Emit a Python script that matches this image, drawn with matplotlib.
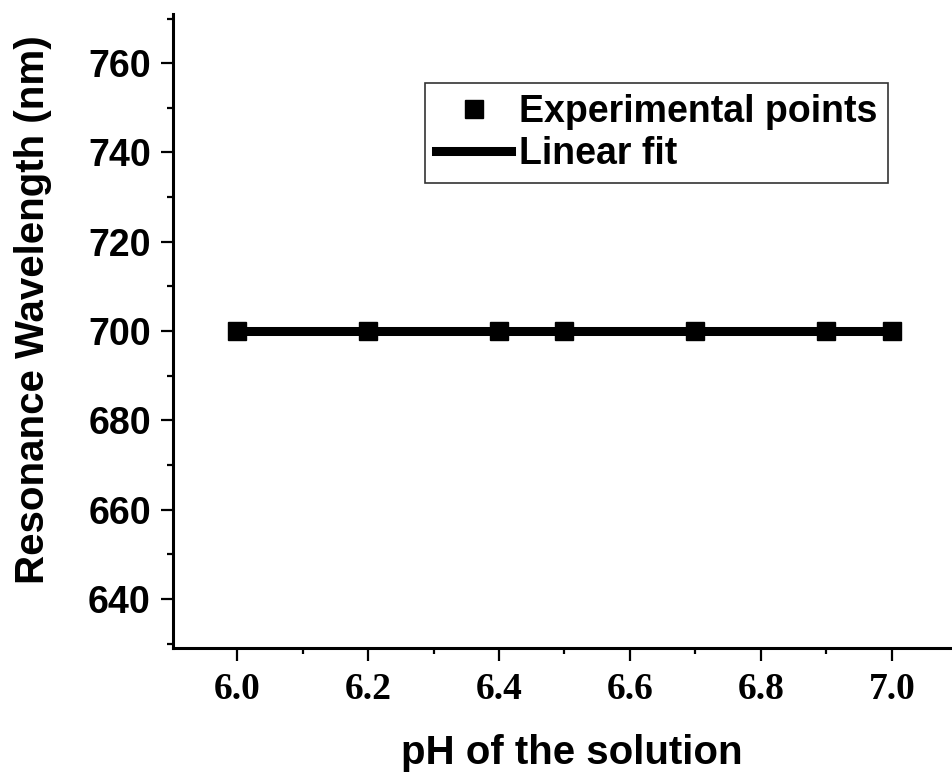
import numpy as np
import matplotlib.pyplot as plt
from matplotlib.ticker import MultipleLocator

ph = [6.0, 6.2, 6.4, 6.5, 6.7, 6.9, 7.0]
wavelength = [700, 700, 700, 700, 700, 700, 700]

# linear fit of the points
coef = np.polyfit(ph, wavelength, 1)
fit_x = np.array([min(ph), max(ph)])
fit_y = np.polyval(coef, fit_x)

fig = plt.figure(figsize=(9.52, 7.74), dpi=100)
ax = fig.add_axes([0.1817, 0.1628, 0.8183, 0.819])

ax.plot(fit_x, fit_y, color="black", linewidth=6.5, label="Linear fit", zorder=2)
ax.plot(ph, wavelength, "s", color="black", markersize=12.5, label="Experimental points", zorder=3)

ax.set_xlim(5.902, 7.092)
ax.set_ylim(629, 771)
ax.xaxis.set_major_locator(MultipleLocator(0.2))
ax.xaxis.set_minor_locator(MultipleLocator(0.1))
ax.yaxis.set_major_locator(MultipleLocator(20))
ax.yaxis.set_minor_locator(MultipleLocator(10))

for s in ["top", "right"]:
    ax.spines[s].set_visible(False)
for s in ["left", "bottom"]:
    ax.spines[s].set_linewidth(2.2)

ax.tick_params(which="major", direction="out", length=9, width=1.6)
ax.tick_params(which="minor", direction="out", length=4.5, width=1.6)
ax.tick_params(axis="x", pad=8, labelsize=27)
ax.tick_params(axis="y", pad=7, labelsize=27)

for lab in ax.get_xticklabels():
    lab.set_fontfamily("Liberation Serif")
    lab.set_fontweight("bold")
for lab in ax.get_yticklabels():
    lab.set_fontfamily("Liberation Sans")
    lab.set_fontweight("bold")

ax.set_xlabel("pH of the solution", fontfamily="Liberation Sans", fontweight="bold",
              fontsize=29)
ax.set_ylabel("Resonance Wavelength (nm)", fontfamily="Liberation Sans", fontweight="bold",
              fontsize=29)
ax.xaxis.set_label_coords(0.512, -0.135)
ax.yaxis.set_label_coords(-0.155, 0.533)

handles, labels = ax.get_legend_handles_labels()
leg = ax.legend(handles[::-1], labels[::-1], loc="upper left",
                bbox_to_anchor=(0.3235, 0.891), frameon=True, fancybox=False,
                edgecolor="black", handlelength=2.0, handletextpad=0.2,
                borderpad=0.3, labelspacing=0.15, borderaxespad=0,
                prop={"family": "Liberation Sans", "weight": "bold", "size": 27})
leg.get_frame().set_linewidth(1.2)

fig.savefig("out.png", dpi=100)
